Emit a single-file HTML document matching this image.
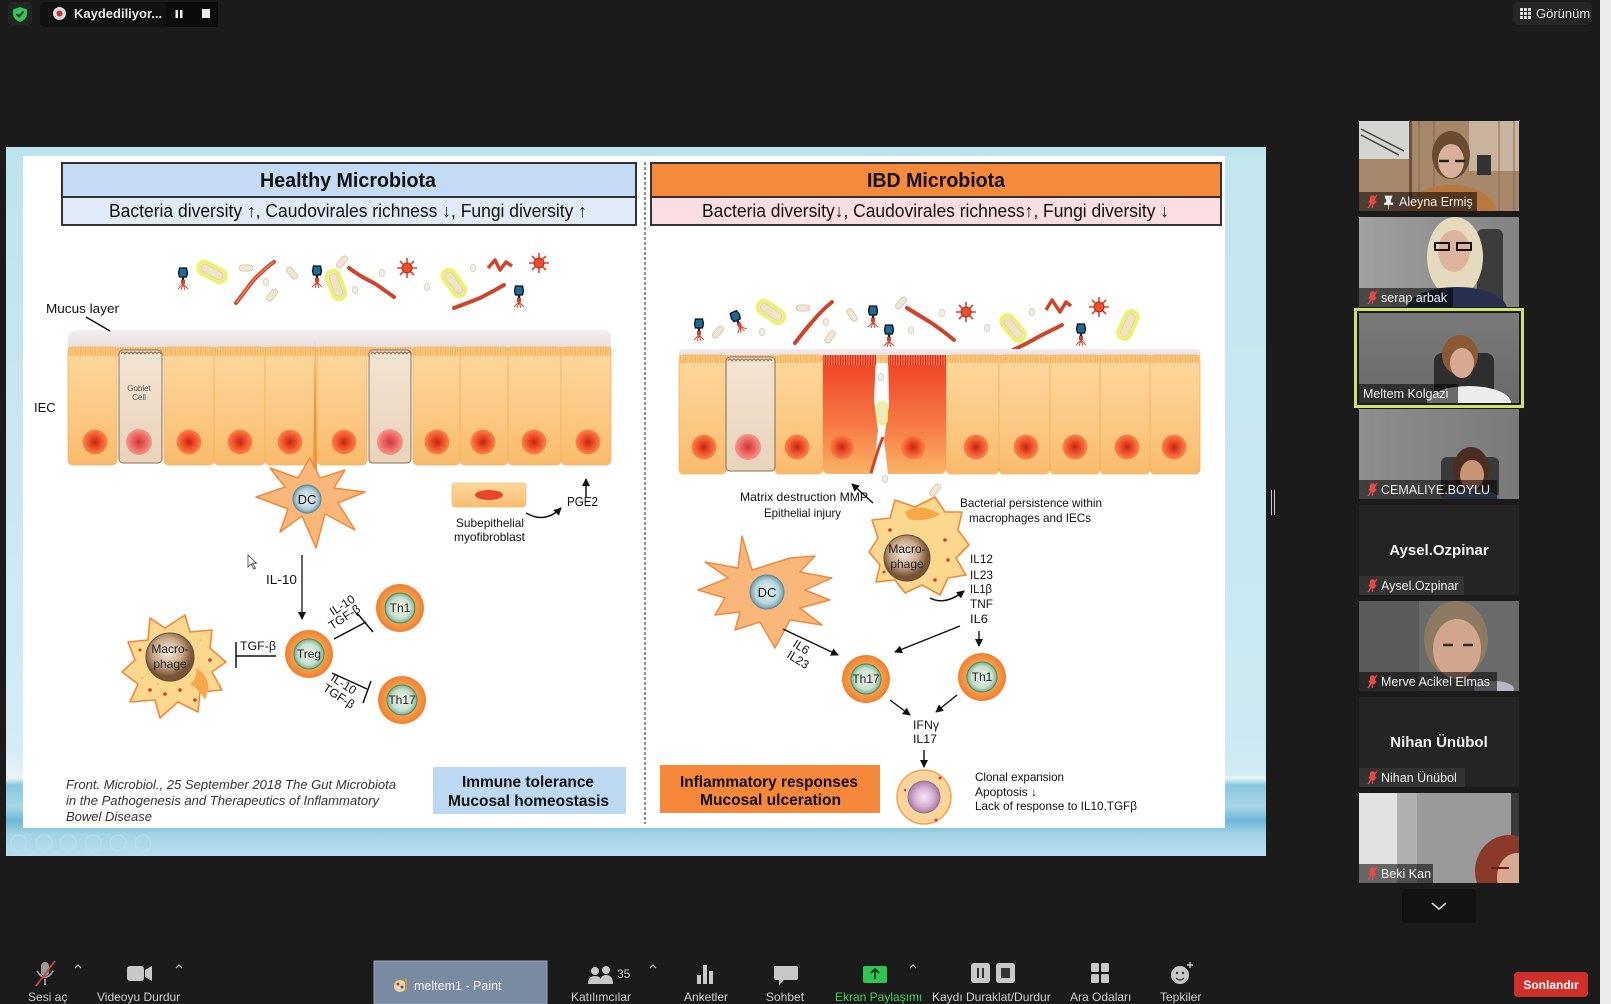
<!DOCTYPE html>
<html><head><meta charset="utf-8">
<style>
html,body{margin:0;padding:0;background:#1b1b1b;width:1611px;height:1004px;overflow:hidden}
svg{position:absolute;left:0;top:0}
text{font-family:"Liberation Sans",Arial,sans-serif}
</style></head><body>
<svg width="1611" height="1004" viewBox="0 0 1611 1004" xmlns="http://www.w3.org/2000/svg">
<defs>
<linearGradient id="slidebg" x1="0" y1="0" x2="0" y2="1">
<stop offset="0" stop-color="#bde3ef"/><stop offset="0.85" stop-color="#d4ecf4"/><stop offset="0.89" stop-color="#e8f4f8"/><stop offset="0.9" stop-color="#88c8de"/><stop offset="0.93" stop-color="#a8d6e8"/><stop offset="0.95" stop-color="#6db8d6"/><stop offset="0.97" stop-color="#a5d4e6"/><stop offset="1" stop-color="#b8def0"/></linearGradient>
<linearGradient id="cellg" x1="0" y1="0" x2="0" y2="1"><stop offset="0" stop-color="#fcd89c"/><stop offset="0.6" stop-color="#fbc883"/><stop offset="1" stop-color="#f9bb6c"/></linearGradient>
<linearGradient id="gobg" x1="0" y1="0" x2="0" y2="1"><stop offset="0" stop-color="#f3e4d2"/><stop offset="1" stop-color="#e9d3bb"/></linearGradient>
<linearGradient id="redg" x1="0" y1="0" x2="0" y2="1"><stop offset="0" stop-color="#ee3f25"/><stop offset="0.6" stop-color="#f77a45"/><stop offset="1" stop-color="#f9b466"/></linearGradient>
<linearGradient id="mucg" x1="0" y1="0" x2="0" y2="1"><stop offset="0" stop-color="#f3eeee"/><stop offset="1" stop-color="#e6dbdb"/></linearGradient>
<radialGradient id="nuc"><stop offset="0" stop-color="#b82a18"/><stop offset="0.45" stop-color="#ee4a24"/><stop offset="1" stop-color="#f8874e"/></radialGradient>
<radialGradient id="nucg"><stop offset="0" stop-color="#c83a3a"/><stop offset="0.5" stop-color="#ec6060"/><stop offset="1" stop-color="#f49a8a"/></radialGradient>
<radialGradient id="tcell"><stop offset="0" stop-color="#f8c080"/><stop offset="0.7" stop-color="#f59a45"/><stop offset="1" stop-color="#ef8030"/></radialGradient>
<radialGradient id="tnuc"><stop offset="0" stop-color="#eef4ee"/><stop offset="0.7" stop-color="#c8e0cc"/><stop offset="1" stop-color="#78b090"/></radialGradient>
<radialGradient id="dcnuc"><stop offset="0" stop-color="#eef6f8"/><stop offset="0.7" stop-color="#b8d4dc"/><stop offset="1" stop-color="#6e9aaa"/></radialGradient>
<radialGradient id="manuc" cx="0.45" cy="0.4"><stop offset="0" stop-color="#f4ebe2"/><stop offset="0.6" stop-color="#c8a888"/><stop offset="1" stop-color="#7a5438"/></radialGradient>
<radialGradient id="purp"><stop offset="0" stop-color="#f6e6f4"/><stop offset="0.6" stop-color="#d8b0d4"/><stop offset="1" stop-color="#a27aa6"/></radialGradient>
<pattern id="brush" width="2.5" height="10" patternUnits="userSpaceOnUse"><rect width="2.5" height="10" fill="#fbc67a"/><rect width="0.8" height="10" fill="#f2a850"/></pattern>
<pattern id="brushr" width="2.5" height="10" patternUnits="userSpaceOnUse"><rect width="2.5" height="10" fill="#f4684a"/><rect width="0.8" height="10" fill="#c82818"/></pattern>
<marker id="ah" markerWidth="8" markerHeight="8" refX="7" refY="4" orient="auto" markerUnits="userSpaceOnUse"><path d="M0,0 L8,4 L0,8 Z" fill="#111"/></marker>
<symbol id="phage" viewBox="-8 -12 16 24" overflow="visible"><path d="M-3.5,-11 L3.5,-11 L4.5,-6 L3.5,-2 L-3.5,-2 L-4.5,-6 Z" fill="#1b6a9a" stroke="#111" stroke-width="1.3"/><rect x="-1.2" y="-2" width="2.4" height="7" fill="#222"/><path d="M0,5 L-5,10 M0,5 L5,10 M0,5 L-2,11 M0,5 L2,11" stroke="#d8402a" stroke-width="1" fill="none"/><rect x="-2" y="1" width="4" height="4" fill="#d8402a"/></symbol>
<symbol id="star" viewBox="-10 -10 20 20" overflow="visible"><path d="M0,-10 L0,10 M-10,0 L10,0 M-7,-7 L7,7 M-7,7 L7,-7" stroke="#e0402a" stroke-width="1.6"/><circle r="5" fill="#e8502e" stroke="#c02a18"/></symbol>
<symbol id="yrod" viewBox="-17 -8 34 16" overflow="visible"><rect x="-15" y="-6.5" width="30" height="13" rx="6.5" fill="#f0e8c8" stroke="#eef26a" stroke-width="3.5"/><rect x="-12" y="-4" width="24" height="8" rx="4" fill="#efe3c6" stroke="#d8cca8" stroke-width="0.6"/></symbol>
<symbol id="brod" viewBox="-8 -4 16 8" overflow="visible"><rect x="-7" y="-3" width="14" height="6" rx="3" fill="#efe6d4" stroke="#cfc2a4" stroke-width="0.8"/></symbol>
<symbol id="ov" viewBox="-4 -5 8 10" overflow="visible"><ellipse rx="2.8" ry="3.6" fill="#f2eee6" stroke="#d4cab8" stroke-width="0.8"/></symbol>
</defs>

<!-- TOP BAR -->
<rect x="8" y="2" width="24" height="23" rx="4" fill="#252525"/>
<path d="M20,7 L27,9.5 L27,14 Q27,19 20,22 Q13,19 13,14 L13,9.5 Z" fill="#2fc55a"/>
<path d="M16.5,14 L19,16.5 L23.5,11.5" stroke="#102a18" stroke-width="1.8" fill="none"/>
<rect x="40" y="2" width="178" height="25" rx="4" fill="#111"/>
<rect x="166" y="2" width="52" height="25" fill="#0b0b0b"/>
<circle cx="59.5" cy="13.5" r="6.5" fill="#ddd"/><circle cx="59.5" cy="13.5" r="3" fill="#c8312e"/>
<text x="74" y="18" font-size="13" font-weight="bold" fill="#e8e8e8">Kaydediliyor...</text>
<rect x="175.5" y="10" width="2.5" height="8" fill="#eee"/><rect x="180" y="10" width="2.5" height="8" fill="#eee"/>
<rect x="202" y="9" width="8" height="9" fill="#eee"/>
<rect x="1513" y="2" width="79" height="23" rx="5" fill="#262626"/>
<g fill="#ddd"><rect x="1520" y="8" width="3" height="3"/><rect x="1524" y="8" width="3" height="3"/><rect x="1528" y="8" width="3" height="3"/><rect x="1520" y="12" width="3" height="3"/><rect x="1524" y="12" width="3" height="3"/><rect x="1528" y="12" width="3" height="3"/><rect x="1520" y="16" width="3" height="3"/><rect x="1524" y="16" width="3" height="3"/><rect x="1528" y="16" width="3" height="3"/></g>
<text x="1536" y="18" font-size="13" fill="#e8e8e8">Görünüm</text>

<!-- SLIDE -->
<rect x="6" y="147" width="1260" height="709" fill="url(#slidebg)"/>
<rect x="1225" y="156" width="41" height="620" fill="#c8e8f2" opacity="0.6"/>
<rect x="23" y="156" width="1202" height="672" fill="#ffffff"/>
<g fill="none" stroke="#c4e2ec" stroke-width="1" opacity="0.7"><circle cx="19" cy="843" r="8"/><circle cx="44" cy="843" r="8"/><circle cx="68" cy="843" r="8"/><circle cx="93" cy="843" r="8"/><circle cx="118" cy="843" r="8"/><circle cx="143" cy="843" r="8"/></g>

<!-- headers -->
<rect x="62" y="163" width="574" height="34" fill="#c3dbf5" stroke="#333" stroke-width="2"/>
<rect x="62" y="197" width="574" height="28" fill="#dfebf9" stroke="#333" stroke-width="2"/>
<text x="260" y="187" font-size="20" font-weight="bold" fill="#111" textLength="176" lengthAdjust="spacingAndGlyphs">Healthy Microbiota</text>
<text x="109" y="217" font-size="18" fill="#111" textLength="478" lengthAdjust="spacingAndGlyphs">Bacteria diversity ↑, Caudovirales richness ↓, Fungi diversity ↑</text>
<rect x="651" y="163" width="570" height="34" fill="#f5893c" stroke="#333" stroke-width="2"/>
<rect x="651" y="197" width="570" height="28" fill="#fcdde2" stroke="#333" stroke-width="2"/>
<text x="867" y="187" font-size="20" font-weight="bold" fill="#111" textLength="138" lengthAdjust="spacingAndGlyphs">IBD Microbiota</text>
<text x="702" y="217" font-size="18" fill="#111" textLength="467" lengthAdjust="spacingAndGlyphs">Bacteria diversity↓, Caudovirales richness↑, Fungi diversity ↓</text>
<line x1="645" y1="162" x2="645" y2="824" stroke="#444" stroke-width="1.2" stroke-dasharray="3 2"/>

<!-- HEALTHY MICROBES -->
<g>
<use href="#phage" x="175" y="267" width="16" height="24"/>
<use href="#yrod" transform="translate(212,272) rotate(28)" width="34" height="16" x="-17" y="-8"/>
<use href="#brod" transform="translate(246,268)" width="16" height="8" x="-8" y="-4"/>
<path d="M236,303 Q246,290 252,282 Q258,275 262,272 Q268,266 274,262" stroke="#d04428" stroke-width="4" fill="none" stroke-linecap="round"/>
<path d="M236,303 Q246,290 252,282 Q258,275 262,272 Q268,266 274,262" stroke="#f08a60" stroke-width="1.2" fill="none"/>
<use href="#ov" transform="translate(266,282)" width="8" height="10" x="-4" y="-5"/>
<use href="#brod" transform="translate(292,273) rotate(50)" width="16" height="8" x="-8" y="-4"/>
<use href="#brod" transform="translate(272,295) rotate(-50)" width="16" height="8" x="-8" y="-4"/>
<use href="#phage" x="309" y="265" width="16" height="24"/>
<use href="#yrod" transform="translate(336,285) rotate(70)" width="34" height="16" x="-17" y="-8"/>
<use href="#brod" transform="translate(342,262) rotate(-50)" width="16" height="8" x="-8" y="-4"/>
<use href="#ov" transform="translate(355,290)" width="8" height="10" x="-4" y="-5"/>
<path d="M349,268 Q360,276 368,280 Q378,285 384,290 Q390,294 394,297" stroke="#d04428" stroke-width="4" fill="none" stroke-linecap="round"/>
<use href="#ov" transform="translate(382,273)" width="8" height="10" x="-4" y="-5"/>
<use href="#star" x="397" y="258" width="20" height="20"/>
<use href="#ov" transform="translate(427,287)" width="8" height="10" x="-4" y="-5"/>
<use href="#yrod" transform="translate(454,283) rotate(55)" width="34" height="16" x="-17" y="-8"/>
<use href="#ov" transform="translate(473,268)" width="8" height="10" x="-4" y="-5"/>
<path d="M488,268 L495,260 L500,270 L506,262 L512,266" stroke="#d04428" stroke-width="3.5" fill="none" stroke-linejoin="round"/>
<use href="#star" x="529" y="253" width="20" height="20"/>
<path d="M454,308 Q470,302 480,298 Q492,292 504,285" stroke="#d04428" stroke-width="4" fill="none" stroke-linecap="round"/>
<use href="#phage" x="511" y="285" width="16" height="24"/>
</g>

<!-- HEALTHY EPITHELIUM -->
<path d="M68,352 L68,336 Q70,330 80,330 L600,330 Q611,330 611,336 L611,352 Z" fill="url(#mucg)"/>
<g stroke="#f2b262" stroke-width="0.8">
<rect x="68" y="347" width="49" height="118" rx="5" fill="url(#cellg)"/>
<rect x="164" y="347" width="50" height="118" rx="5" fill="url(#cellg)"/>
<rect x="214" y="347" width="51" height="118" rx="5" fill="url(#cellg)"/>
<rect x="265" y="347" width="52" height="118" rx="5" fill="url(#cellg)"/>
<rect x="317" y="347" width="50" height="118" rx="5" fill="url(#cellg)"/>
<rect x="413" y="347" width="47" height="118" rx="5" fill="url(#cellg)"/>
<rect x="460" y="347" width="48" height="118" rx="5" fill="url(#cellg)"/>
<rect x="508" y="347" width="53" height="118" rx="5" fill="url(#cellg)"/>
<rect x="561" y="347" width="50" height="118" rx="5" fill="url(#cellg)"/>
</g>
<rect x="68" y="347" width="543" height="9" fill="url(#brush)" opacity="0.9"/>
<rect x="119" y="350" width="43" height="113" rx="4" fill="url(#gobg)" stroke="#8a6a4a" stroke-width="1"/>
<rect x="369" y="350" width="42" height="113" rx="4" fill="url(#gobg)" stroke="#8a6a4a" stroke-width="1"/>
<path d="M121,354 q2,-4 4,0 q2,-4 4,0 q2,-4 4,0 q2,-4 4,0 q2,-4 4,0 q2,-4 4,0 q2,-4 4,0 q2,-4 4,0 q2,-4 4,0 q2,-4 4,0" stroke="#8a6a4a" fill="none" stroke-width="0.9"/>
<path d="M371,354 q2,-4 4,0 q2,-4 4,0 q2,-4 4,0 q2,-4 4,0 q2,-4 4,0 q2,-4 4,0 q2,-4 4,0 q2,-4 4,0 q2,-4 4,0 q2,-4 4,0" stroke="#8a6a4a" fill="none" stroke-width="0.9"/>
<text x="139" y="391" font-size="8" fill="#555" text-anchor="middle">Goblet</text>
<text x="139" y="400" font-size="8" fill="#555" text-anchor="middle">Cell</text>
<g>
<circle cx="95" cy="442" r="12.5" fill="url(#nuc)"/><circle cx="139" cy="442" r="13" fill="url(#nucg)"/><circle cx="189" cy="442" r="12.5" fill="url(#nuc)"/><circle cx="240" cy="442" r="12.5" fill="url(#nuc)"/><circle cx="290" cy="442" r="12.5" fill="url(#nuc)"/><circle cx="344" cy="442" r="12.5" fill="url(#nuc)"/><circle cx="390" cy="442" r="13" fill="url(#nucg)"/><circle cx="437" cy="442" r="12.5" fill="url(#nuc)"/><circle cx="483" cy="442" r="12.5" fill="url(#nuc)"/><circle cx="534" cy="442" r="12.5" fill="url(#nuc)"/><circle cx="588" cy="442" r="12.5" fill="url(#nuc)"/>
</g>
<path d="M313,470 L315,337 L317,470 Z" fill="#f2923a"/>
<text x="46" y="313" font-size="13" fill="#111" textLength="73" lengthAdjust="spacingAndGlyphs">Mucus layer</text>
<line x1="86" y1="317" x2="110" y2="331" stroke="#111" stroke-width="1.5"/>
<text x="34" y="412" font-size="13" fill="#111">IEC</text>

<!-- HEALTHY LOWER -->
<path d="M310,458 L320,478 L345,470 L334,488 L365,492 L338,503 L355,530 L325,514 L316,548 L302,516 L280,532 L288,509 L256,497 L285,487 L270,468 L298,478 Z" fill="#f9b87a" stroke="#f08a3c" stroke-width="1.5" stroke-linejoin="round"/>
<circle cx="307" cy="499" r="14" fill="url(#dcnuc)" stroke="#5a8a9a" stroke-width="1"/>
<text x="307" y="504" font-size="13" fill="#111" text-anchor="middle">DC</text>
<rect x="452" y="483" width="74" height="24" rx="3" fill="url(#cellg)" stroke="#f4c080" stroke-width="0.8"/>
<ellipse cx="489" cy="495" rx="14" ry="5" fill="#e8452a"/>
<text x="456" y="527" font-size="12" fill="#111" textLength="68" lengthAdjust="spacingAndGlyphs">Subepithelial</text>
<text x="454" y="541" font-size="12" fill="#111" textLength="71" lengthAdjust="spacingAndGlyphs">myofibroblast</text>
<path d="M526,513 Q545,524 561,508" stroke="#111" stroke-width="1.5" fill="none" marker-end="url(#ah)"/>
<text x="567" y="506" font-size="13" fill="#111" textLength="31" lengthAdjust="spacingAndGlyphs">PGE2</text>
<line x1="586" y1="497" x2="586" y2="479" stroke="#111" stroke-width="1.5" marker-end="url(#ah)"/>
<line x1="302" y1="555" x2="302" y2="619" stroke="#111" stroke-width="1.3" marker-end="url(#ah)"/>
<text x="266" y="584" font-size="13" fill="#111" textLength="31" lengthAdjust="spacingAndGlyphs">IL-10</text>
<path d="M248,555 l0,12 l3,-3 l3,5 l1.5,-0.8 l-3,-5 l4,0 Z" fill="#fff" stroke="#333" stroke-width="0.8"/>

<g>
<circle cx="309" cy="654" r="24" fill="url(#tcell)"/><circle cx="309" cy="654" r="15" fill="url(#tnuc)" stroke="#4a8a6a" stroke-width="1"/>
<text x="309" y="658" font-size="12" fill="#222" text-anchor="middle">Treg</text>
<circle cx="400" cy="608" r="24" fill="url(#tcell)"/><circle cx="400" cy="608" r="15" fill="url(#tnuc)" stroke="#4a8a6a" stroke-width="1"/>
<text x="400" y="612" font-size="12" fill="#222" text-anchor="middle">Th1</text>
<circle cx="402" cy="700" r="24" fill="url(#tcell)"/><circle cx="402" cy="700" r="15" fill="url(#tnuc)" stroke="#4a8a6a" stroke-width="1"/>
<text x="402" y="704" font-size="12" fill="#222" text-anchor="middle">Th17</text>
</g>
<g stroke="#111" stroke-width="1.5">
<line x1="334" y1="639" x2="366" y2="622"/><line x1="357" y1="613" x2="373" y2="632"/>
<line x1="332" y1="673" x2="367" y2="689"/><line x1="371" y1="681" x2="363" y2="703"/>
<line x1="236" y1="656" x2="276" y2="656"/><line x1="236" y1="642" x2="236" y2="668"/>
</g>
<text transform="translate(333,616) rotate(-33)" font-size="12" fill="#111">IL-10</text>
<text transform="translate(332,630) rotate(-33)" font-size="12" fill="#111">TGF-β</text>
<text transform="translate(330,680) rotate(33)" font-size="12" fill="#111">IL-10</text>
<text transform="translate(322,690) rotate(33)" font-size="12" fill="#111">TGF-β</text>
<text x="240" y="650" font-size="12" fill="#111" textLength="36" lengthAdjust="spacingAndGlyphs">TGF-β</text>

<path d="M150,618 L165,628 L185,615 L190,632 L212,630 L210,648 L226,662 L212,672 L222,690 L200,692 L198,712 L178,702 L160,718 L155,700 L130,702 L138,684 L122,672 L135,660 L128,642 L148,640 Z" fill="#fbd88e" stroke="#f0883a" stroke-width="1.6" stroke-linejoin="round"/>
<path d="M196,668 Q214,678 205,700 Q200,690 190,684 Q198,678 196,668 Z" fill="#f7a848"/>
<g fill="#d83a2a"><circle cx="150" cy="690" r="1.8"/><circle cx="165" cy="694" r="1.8"/><circle cx="180" cy="690" r="1.8"/><circle cx="210" cy="660" r="1.8"/><circle cx="195" cy="700" r="1.8"/><circle cx="140" cy="650" r="1.5"/></g>
<g fill="#e8d060"><circle cx="158" cy="684" r="1.4"/><circle cx="142" cy="678" r="1.4"/><circle cx="200" cy="640" r="1.4"/></g>
<circle cx="170" cy="657" r="24" fill="url(#manuc)" stroke="#6a4a30" stroke-width="1"/>
<text x="170" y="653" font-size="12" fill="#222" text-anchor="middle">Macro-</text>
<text x="170" y="668" font-size="12" fill="#222" text-anchor="middle">phage</text>

<text x="66" y="789" font-size="13" font-style="italic" fill="#333" textLength="330" lengthAdjust="spacingAndGlyphs">Front. Microbiol., 25 September 2018 The Gut Microbiota</text>
<text x="66" y="805" font-size="13" font-style="italic" fill="#333" textLength="313" lengthAdjust="spacingAndGlyphs">in the Pathogenesis and Therapeutics of Inflammatory</text>
<text x="66" y="821" font-size="13" font-style="italic" fill="#333" textLength="86" lengthAdjust="spacingAndGlyphs">Bowel Disease</text>
<rect x="433" y="767" width="193" height="47" fill="#bcd8f2"/>
<text x="462" y="787" font-size="16" font-weight="bold" fill="#111" textLength="132" lengthAdjust="spacingAndGlyphs">Immune tolerance</text>
<text x="448" y="806" font-size="16" font-weight="bold" fill="#111" textLength="161" lengthAdjust="spacingAndGlyphs">Mucosal homeostasis</text>

<!-- IBD MICROBES -->
<g>
<use href="#phage" x="691" y="318" width="16" height="24"/>
<use href="#brod" transform="translate(718,332) rotate(-50)" width="16" height="8" x="-8" y="-4"/>
<use href="#phage" transform="translate(738,322) rotate(-25)" x="-8" y="-12" width="16" height="24"/>
<use href="#ov" transform="translate(762,332)" width="8" height="10" x="-4" y="-5"/>
<use href="#yrod" transform="translate(771,312) rotate(35)" width="34" height="16" x="-17" y="-8"/>
<use href="#brod" transform="translate(803,308)" width="16" height="8" x="-8" y="-4"/>
<path d="M795,343 Q805,330 812,322 Q822,310 832,302" stroke="#d04428" stroke-width="4" fill="none" stroke-linecap="round"/>
<use href="#brod" transform="translate(830,337) rotate(-55)" width="16" height="8" x="-8" y="-4"/>
<use href="#ov" transform="translate(826,322)" width="8" height="10" x="-4" y="-5"/>
<use href="#brod" transform="translate(852,315) rotate(55)" width="16" height="8" x="-8" y="-4"/>
<use href="#phage" x="865" y="305" width="16" height="24"/>
<use href="#brod" transform="translate(901,303) rotate(-50)" width="16" height="8" x="-8" y="-4"/>
<use href="#phage" x="881" y="324" width="16" height="24"/>
<use href="#ov" transform="translate(911,330)" width="8" height="10" x="-4" y="-5"/>
<path d="M907,308 Q920,316 930,322 Q942,330 954,340" stroke="#d04428" stroke-width="4" fill="none" stroke-linecap="round"/>
<use href="#ov" transform="translate(942,313)" width="8" height="10" x="-4" y="-5"/>
<use href="#star" x="956" y="302" width="20" height="20"/>
<use href="#ov" transform="translate(987,328)" width="8" height="10" x="-4" y="-5"/>
<use href="#yrod" transform="translate(1013,328) rotate(50)" width="34" height="16" x="-17" y="-8"/>
<use href="#ov" transform="translate(1032,312)" width="8" height="10" x="-4" y="-5"/>
<path d="M1046,310 L1052,300 L1060,312 L1066,302 L1071,306" stroke="#d04428" stroke-width="3.5" fill="none" stroke-linejoin="round"/>
<use href="#star" x="1089" y="297" width="20" height="20"/>
<path d="M1013,350 Q1028,343 1040,336 Q1052,330 1062,325" stroke="#d04428" stroke-width="4" fill="none" stroke-linecap="round"/>
<use href="#phage" x="1073" y="323" width="16" height="24"/>
<use href="#yrod" transform="translate(1128,325) rotate(-65)" width="34" height="16" x="-17" y="-8"/>
</g>

<!-- IBD EPITHELIUM -->
<rect x="679" y="349" width="521" height="9" rx="3" fill="url(#mucg)"/>
<g stroke="#f2b262" stroke-width="0.8">
<rect x="679" y="355" width="47" height="119" rx="5" fill="url(#cellg)"/>
<rect x="775" y="355" width="48" height="119" rx="5" fill="url(#cellg)"/>
<rect x="946" y="355" width="53" height="119" rx="5" fill="url(#cellg)"/>
<rect x="999" y="355" width="51" height="119" rx="5" fill="url(#cellg)"/>
<rect x="1050" y="355" width="50" height="119" rx="5" fill="url(#cellg)"/>
<rect x="1100" y="355" width="50" height="119" rx="5" fill="url(#cellg)"/>
<rect x="1150" y="355" width="50" height="119" rx="5" fill="url(#cellg)"/>
</g>
<rect x="679" y="355" width="521" height="8" fill="url(#brush)" opacity="0.9"/>
<path d="M823,355 L876,355 L874,400 L878,430 L873,474 L828,474 Q823,474 823,468 Z" fill="url(#redg)"/>
<path d="M888,355 L946,355 L946,468 Q946,474 940,474 L888,474 L884,440 L889,405 Z" fill="url(#redg)"/>
<rect x="823" y="355" width="53" height="10" fill="url(#brushr)"/>
<rect x="888" y="355" width="58" height="10" fill="url(#brushr)"/>
<rect x="726" y="357" width="49" height="114" rx="4" fill="url(#gobg)" stroke="#8a6a4a" stroke-width="1"/>
<path d="M728,361 q2,-4 4,0 q2,-4 4,0 q2,-4 4,0 q2,-4 4,0 q2,-4 4,0 q2,-4 4,0 q2,-4 4,0 q2,-4 4,0 q2,-4 4,0 q2,-4 4,0 q2,-4 4,0" stroke="#8a6a4a" fill="none" stroke-width="0.9"/>
<rect x="878" y="402" width="9" height="22" rx="4.5" fill="#f0e8c8" stroke="#eef26a" stroke-width="2"/>
<path d="M871,473 Q875,460 878,450 Q881,442 883,437" stroke="#d04428" stroke-width="3" fill="none"/>
<use href="#ov" transform="translate(881,377)" width="8" height="10" x="-4" y="-5"/>
<use href="#ov" transform="translate(885,479)" width="8" height="10" x="-4" y="-5"/>
<g>
<circle cx="704" cy="447" r="12.5" fill="url(#nuc)"/><circle cx="748" cy="447" r="13" fill="url(#nucg)"/><circle cx="797" cy="447" r="12.5" fill="url(#nuc)"/><circle cx="842" cy="447" r="12.5" fill="url(#nuc)"/><circle cx="913" cy="447" r="12.5" fill="url(#nuc)"/><circle cx="976" cy="447" r="12.5" fill="url(#nuc)"/><circle cx="1026" cy="447" r="12.5" fill="url(#nuc)"/><circle cx="1075" cy="447" r="12.5" fill="url(#nuc)"/><circle cx="1127" cy="447" r="12.5" fill="url(#nuc)"/><circle cx="1174" cy="447" r="12.5" fill="url(#nuc)"/>
</g>

<!-- IBD LOWER -->
<line x1="873" y1="503" x2="852" y2="484" stroke="#111" stroke-width="1.4" marker-end="url(#ah)"/>
<text x="740" y="501" font-size="12" fill="#111" textLength="128" lengthAdjust="spacingAndGlyphs">Matrix destruction MMP</text>
<text x="764" y="517" font-size="12" fill="#111" textLength="77" lengthAdjust="spacingAndGlyphs">Epithelial injury</text>
<text x="960" y="507" font-size="12" fill="#111" textLength="142" lengthAdjust="spacingAndGlyphs">Bacterial persistence within</text>
<text x="969" y="522" font-size="12" fill="#111" textLength="122" lengthAdjust="spacingAndGlyphs">macrophages and IECs</text>
<use href="#brod" transform="translate(935,490) rotate(-50)" width="16" height="8" x="-8" y="-4"/>

<path d="M895,500 L915,507 L935,497 L945,512 L962,512 L958,530 L969,545 L956,558 L966,575 L948,578 L940,595 L922,585 L905,593 L895,580 L876,582 L880,565 L869,552 L878,538 L872,520 L890,518 Z" fill="#fbd88e" stroke="#f0883a" stroke-width="1.6" stroke-linejoin="round"/>
<path d="M905,512 Q920,502 940,514 Q932,520 918,520 Q908,522 905,512 Z" fill="#f7a848"/>
<g fill="#d83a2a"><circle cx="890" cy="530" r="1.8"/><circle cx="945" cy="540" r="1.8"/><circle cx="948" cy="560" r="1.8"/><circle cx="935" cy="580" r="1.8"/><circle cx="884" cy="572" r="1.5"/></g>
<circle cx="907" cy="558" r="23" fill="url(#manuc)" stroke="#6a4a30" stroke-width="1"/>
<text x="907" y="553" font-size="12" fill="#222" text-anchor="middle">Macro-</text>
<text x="907" y="568" font-size="12" fill="#222" text-anchor="middle">phage</text>
<path d="M930,598 Q945,606 964,591" stroke="#111" stroke-width="1.5" fill="none" marker-end="url(#ah)"/>
<g font-size="12" fill="#111">
<text x="970" y="563" textLength="23" lengthAdjust="spacingAndGlyphs">IL12</text>
<text x="970" y="579" textLength="23" lengthAdjust="spacingAndGlyphs">IL23</text>
<text x="970" y="593" textLength="22" lengthAdjust="spacingAndGlyphs">IL1β</text>
<text x="970" y="608" textLength="23" lengthAdjust="spacingAndGlyphs">TNF</text>
<text x="970" y="623" textLength="18" lengthAdjust="spacingAndGlyphs">IL6</text>
</g>
<line x1="979" y1="631" x2="979" y2="646" stroke="#111" stroke-width="1.4" marker-end="url(#ah)"/>
<line x1="960" y1="626" x2="895" y2="652" stroke="#111" stroke-width="1.4" marker-end="url(#ah)"/>

<path d="M742,536 L752,570 L790,558 L815,556 L800,572 L832,578 L805,590 L830,600 L800,608 L822,625 L790,620 L775,648 L760,622 L735,630 L740,612 L715,615 L725,598 L698,590 L728,578 L705,562 L738,568 Z" fill="#f9b87a" stroke="#f08a3c" stroke-width="1.5" stroke-linejoin="round"/>
<circle cx="767" cy="592" r="17" fill="url(#dcnuc)" stroke="#5a8a9a" stroke-width="1"/>
<text x="767" y="597" font-size="13" fill="#111" text-anchor="middle">DC</text>
<line x1="783" y1="629" x2="838" y2="655" stroke="#111" stroke-width="1.4" marker-end="url(#ah)"/>
<text transform="translate(792,646) rotate(32)" font-size="12" fill="#111">IL6</text>
<text transform="translate(786,657) rotate(32)" font-size="12" fill="#111">IL23</text>

<circle cx="866" cy="679" r="24" fill="url(#tcell)"/><circle cx="866" cy="679" r="15" fill="url(#tnuc)" stroke="#4a8a6a" stroke-width="1"/>
<text x="866" y="683" font-size="12" fill="#222" text-anchor="middle">Th17</text>
<circle cx="982" cy="677" r="24" fill="url(#tcell)"/><circle cx="982" cy="677" r="15" fill="url(#tnuc)" stroke="#4a8a6a" stroke-width="1"/>
<text x="982" y="681" font-size="12" fill="#222" text-anchor="middle">Th1</text>
<line x1="890" y1="700" x2="910" y2="715" stroke="#111" stroke-width="1.4" marker-end="url(#ah)"/>
<line x1="957" y1="695" x2="936" y2="712" stroke="#111" stroke-width="1.4" marker-end="url(#ah)"/>
<text x="913" y="729" font-size="12" fill="#111" textLength="26" lengthAdjust="spacingAndGlyphs">IFNγ</text>
<text x="913" y="743" font-size="12" fill="#111" textLength="24" lengthAdjust="spacingAndGlyphs">IL17</text>
<line x1="924" y1="750" x2="924" y2="767" stroke="#111" stroke-width="1.4" marker-end="url(#ah)"/>
<circle cx="924" cy="797" r="27" fill="#fbd59a" stroke="#f3a452" stroke-width="1.5"/>
<circle cx="924" cy="797" r="16" fill="url(#purp)" stroke="#8a6a90" stroke-width="0.8"/>
<g fill="#d83a2a"><circle cx="940" cy="778" r="1.5"/><circle cx="936" cy="820" r="1.5"/><circle cx="905" cy="790" r="1.3"/></g>
<text x="975" y="781" font-size="12" fill="#111" textLength="89" lengthAdjust="spacingAndGlyphs">Clonal expansion</text>
<text x="975" y="796" font-size="12" fill="#111" textLength="62" lengthAdjust="spacingAndGlyphs">Apoptosis ↓</text>
<text x="975" y="810" font-size="12" fill="#111" textLength="162" lengthAdjust="spacingAndGlyphs">Lack of response to IL10,TGFβ</text>
<rect x="660" y="765" width="220" height="48" fill="#f5883a"/>
<text x="680" y="787" font-size="16" font-weight="bold" fill="#111" textLength="178" lengthAdjust="spacingAndGlyphs">Inflammatory responses</text>
<text x="700" y="805" font-size="16" font-weight="bold" fill="#111" textLength="141" lengthAdjust="spacingAndGlyphs">Mucosal ulceration</text>

<!-- right edge strip & handle -->
<rect x="1600" y="0" width="11" height="1004" fill="#ececec"/>
<line x1="1271.5" y1="490" x2="1271.5" y2="515" stroke="#ccc" stroke-width="1"/>
<line x1="1274.5" y1="490" x2="1274.5" y2="515" stroke="#ccc" stroke-width="1"/>

<!-- GALLERY -->
<svg x="1359" y="121" width="160" height="90" viewBox="0 0 160 90">
<rect width="160" height="90" fill="#a6876a"/>
<rect x="0" y="0" width="50" height="38" fill="#d4d4d0"/><path d="M2,8 L45,30 M2,14 L40,34" stroke="#444" stroke-width="1.5"/>
<rect x="50" y="0" width="3" height="90" fill="#6a5040"/>
<rect x="110" y="0" width="50" height="50" fill="#c8b49c"/>
<g stroke="#8a6a50" stroke-width="1"><line x1="60" y1="0" x2="60" y2="90"/><line x1="75" y1="0" x2="75" y2="90"/><line x1="140" y1="0" x2="140" y2="90"/><line x1="155" y1="0" x2="155" y2="90"/></g>
<rect x="118" y="34" width="14" height="20" fill="#333"/>
<ellipse cx="92" cy="34" rx="19" ry="24" fill="#6b4a32"/>
<ellipse cx="92" cy="40" rx="13" ry="17" fill="#d9b09a"/>
<path d="M80,40 h10 M96,40 h10" stroke="#222" stroke-width="2.5"/>
<ellipse cx="92" cy="90" rx="44" ry="26" fill="#b8783e"/>
<rect x="0" y="71" width="118" height="19" fill="#000" opacity="0.55"/>
</svg>
<svg x="1359" y="217" width="160" height="90" viewBox="0 0 160 90">
<defs><linearGradient id="t2" x1="0" x2="1"><stop offset="0" stop-color="#a0a0a0"/><stop offset="1" stop-color="#828282"/></linearGradient></defs>
<rect width="160" height="90" fill="url(#t2)"/>
<rect x="118" y="12" width="26" height="78" rx="6" fill="#3c3c3c"/>
<ellipse cx="96" cy="40" rx="28" ry="40" fill="#e6dabe"/>
<ellipse cx="95" cy="34" rx="16" ry="21" fill="#dcb49e"/>
<path d="M76,26 h14 v7 h-14 Z M98,26 h14 v7 h-14 Z" fill="none" stroke="#111" stroke-width="2"/>
<ellipse cx="98" cy="92" rx="50" ry="22" fill="#283050"/>
<rect x="0" y="71" width="94" height="19" fill="#000" opacity="0.55"/>
</svg>
<rect x="1355.5" y="309.5" width="167" height="97" fill="none" stroke="#cfe36a" stroke-width="3"/>
<svg x="1359" y="313" width="160" height="90" viewBox="0 0 160 90">
<defs><linearGradient id="t3" x1="0" x2="0" y1="0" y2="1"><stop offset="0" stop-color="#7a7a7a"/><stop offset="1" stop-color="#6a6a6a"/></linearGradient></defs>
<rect width="160" height="90" fill="url(#t3)"/>
<rect x="75" y="40" width="60" height="50" rx="8" fill="#2e2e2e"/>
<ellipse cx="101" cy="42" rx="18" ry="20" fill="#8a5a36"/>
<ellipse cx="103" cy="50" rx="12" ry="15" fill="#d8a890"/>
<ellipse cx="110" cy="90" rx="42" ry="17" fill="#ececec"/>
<rect x="0" y="71" width="99" height="19" fill="#000" opacity="0.55"/>
</svg>
<svg x="1359" y="409" width="160" height="90" viewBox="0 0 160 90">
<defs><linearGradient id="t4" x1="0" x2="1"><stop offset="0" stop-color="#8e8e8e"/><stop offset="1" stop-color="#7a7a7a"/></linearGradient></defs>
<rect width="160" height="90" fill="url(#t4)"/>
<rect x="82" y="48" width="58" height="42" rx="6" fill="#3a3a3a"/>
<ellipse cx="112" cy="60" rx="18" ry="22" fill="#4a2e22"/>
<ellipse cx="113" cy="66" rx="12" ry="15" fill="#c89478"/>
<ellipse cx="112" cy="92" rx="30" ry="12" fill="#5a6a8a"/>
<rect x="0" y="71" width="138" height="19" fill="#000" opacity="0.55"/>
</svg>
<rect x="1359" y="505" width="160" height="90" fill="#242424"/>
<text x="1439" y="555" font-size="15" font-weight="bold" fill="#f0f0f0" text-anchor="middle">Aysel.Ozpinar</text>
<rect x="1359" y="576" width="105" height="19" fill="#333"/>
<svg x="1359" y="601" width="160" height="90" viewBox="0 0 160 90">
<rect width="160" height="90" fill="#6a6a6a"/>
<rect x="0" y="0" width="60" height="90" fill="#5a5a5a"/>
<ellipse cx="97" cy="38" rx="32" ry="38" fill="#8e7a62"/>
<ellipse cx="98" cy="48" rx="24" ry="30" fill="#d2a68e"/>
<path d="M84,44 h10 M104,44 h10" stroke="#3a2a20" stroke-width="2.5"/>
<ellipse cx="135" cy="88" rx="20" ry="8" fill="#b8b8c0"/>
<rect x="0" y="71" width="138" height="19" fill="#000" opacity="0.55"/>
</svg>
<rect x="1359" y="697" width="160" height="90" fill="#242424"/>
<text x="1439" y="747" font-size="15" font-weight="bold" fill="#f0f0f0" text-anchor="middle">Nihan Ünübol</text>
<rect x="1359" y="768" width="106" height="19" fill="#333"/>
<svg x="1359" y="793" width="160" height="90" viewBox="0 0 160 90">
<rect width="160" height="90" fill="#9a9a9a"/>
<rect x="0" y="0" width="38" height="90" fill="#e2e2e2"/>
<rect x="38" y="0" width="20" height="90" fill="#b0b0b0"/>
<rect x="152" y="0" width="8" height="90" fill="#3a3a3a"/>
<ellipse cx="150" cy="78" rx="34" ry="36" fill="#8a3a2a"/>
<ellipse cx="158" cy="84" rx="20" ry="24" fill="#d8a890"/>
<path d="M132,75 h18" stroke="#6a1a1a" stroke-width="2"/>
<rect x="0" y="71" width="74" height="19" fill="#000" opacity="0.55"/>
</svg>
<g stroke="#e84a40" stroke-width="1.4" fill="none">
<g transform="translate(1368,196)"><rect x="2.5" y="0" width="4" height="7" rx="2" fill="#e84a40"/><path d="M1,5 Q4.5,11 8,5 M4.5,9 v3"/><line x1="0" y1="12" x2="9" y2="-1"/></g>
<g transform="translate(1368,292)"><rect x="2.5" y="0" width="4" height="7" rx="2" fill="#e84a40"/><path d="M1,5 Q4.5,11 8,5 M4.5,9 v3"/><line x1="0" y1="12" x2="9" y2="-1"/></g>
<g transform="translate(1368,484)"><rect x="2.5" y="0" width="4" height="7" rx="2" fill="#e84a40"/><path d="M1,5 Q4.5,11 8,5 M4.5,9 v3"/><line x1="0" y1="12" x2="9" y2="-1"/></g>
<g transform="translate(1368,580)"><rect x="2.5" y="0" width="4" height="7" rx="2" fill="#e84a40"/><path d="M1,5 Q4.5,11 8,5 M4.5,9 v3"/><line x1="0" y1="12" x2="9" y2="-1"/></g>
<g transform="translate(1368,676)"><rect x="2.5" y="0" width="4" height="7" rx="2" fill="#e84a40"/><path d="M1,5 Q4.5,11 8,5 M4.5,9 v3"/><line x1="0" y1="12" x2="9" y2="-1"/></g>
<g transform="translate(1368,772)"><rect x="2.5" y="0" width="4" height="7" rx="2" fill="#e84a40"/><path d="M1,5 Q4.5,11 8,5 M4.5,9 v3"/><line x1="0" y1="12" x2="9" y2="-1"/></g>
<g transform="translate(1368,868)"><rect x="2.5" y="0" width="4" height="7" rx="2" fill="#e84a40"/><path d="M1,5 Q4.5,11 8,5 M4.5,9 v3"/><line x1="0" y1="12" x2="9" y2="-1"/></g>
</g>
<path d="M1385,196 h7 l-1.5,4 v3 h2 v1.5 h-8 v-1.5 h2 v-3 Z M1388.5,204.5 v5" fill="#eee" stroke="#eee" stroke-width="0.8"/>
<g font-size="12.5" fill="#f2f2f2">
<text x="1399" y="206">Aleyna Ermiş</text>
<text x="1381" y="302">serap arbak</text>
<text x="1363" y="398">Meltem Kolgazi</text>
<text x="1381" y="494">CEMALIYE.BOYLU</text>
<text x="1381" y="590">Aysel.Ozpinar</text>
<text x="1381" y="686">Merve Acikel Elmas</text>
<text x="1381" y="782">Nihan Ünübol</text>
<text x="1381" y="878">Beki Kan</text>
</g>
<rect x="1402" y="889" width="74" height="34" rx="3" fill="#121212"/>
<path d="M1432,903 L1439,909 L1446,903" stroke="#ccc" stroke-width="1.8" fill="none"/>

<!-- BOTTOM TOOLBAR -->
<rect x="41" y="962" width="8" height="14" rx="4" fill="#9a9a9a"/>
<path d="M37,971 Q45,984 53,971" stroke="#9a9a9a" stroke-width="1.8" fill="none"/>
<line x1="45" y1="979" x2="45" y2="985" stroke="#9a9a9a" stroke-width="1.8"/>
<line x1="36" y1="986" x2="55" y2="961" stroke="#d04040" stroke-width="1.8"/>
<path d="M75,968 l3,-3 l3,3" stroke="#bbb" stroke-width="1.3" fill="none"/>
<rect x="127" y="966" width="17" height="15" rx="3" fill="#c8c8c8"/>
<path d="M145,970 L152,966 L152,981 L145,977 Z" fill="#c8c8c8"/>
<path d="M176,968 l3,-3 l3,3" stroke="#bbb" stroke-width="1.3" fill="none"/>
<g font-size="12" fill="#d0d0d0">
<text x="28" y="1001">Sesi aç</text>
<text x="97" y="1001">Videoyu Durdur</text>
<text x="571" y="1001">Katılımcılar</text>
<text x="684" y="1001">Anketler</text>
<text x="766" y="1001">Sohbet</text>
<text x="932" y="1001">Kaydı Duraklat/Durdur</text>
<text x="1070" y="1001">Ara Odaları</text>
<text x="1160" y="1001">Tepkiler</text>
</g>
<text x="835" y="1001" font-size="12" fill="#3ed45a">Ekran Paylaşımı</text>
<rect x="374" y="961" width="173" height="43" fill="#7a8aa2" stroke="#9aa8bc" stroke-width="1"/>
<circle cx="400" cy="986" r="6" fill="#e8d8a0"/><circle cx="398" cy="984" r="1.5" fill="#d03030"/><circle cx="402" cy="987" r="1.5" fill="#3050d0"/><rect x="405" y="978" width="2" height="12" fill="#c09040"/>
<text x="414" y="990" font-size="12.5" fill="#f4f4f4">meltem1 - Paint</text>
<g fill="#c8c8c8">
<circle cx="595" cy="971" r="4"/><path d="M588,984 Q588,976 595,976 Q602,976 602,984 Z"/>
<circle cx="606" cy="970" r="4"/><path d="M600,984 Q600,975 606,975 Q613,975 613,984 Z"/>
</g>
<text x="617" y="978" font-size="12" fill="#d0d0d0">35</text>
<path d="M650,968 l3,-3 l3,3" stroke="#bbb" stroke-width="1.3" fill="none"/>
<g fill="#c8c8c8"><rect x="697" y="975" width="4" height="9"/><rect x="703" y="965" width="4" height="19"/><rect x="709" y="971" width="4" height="13"/></g>
<path d="M776,966 h20 a2,2 0 0 1 2,2 v10 a2,2 0 0 1 -2,2 h-12 l-5,5 v-5 h-3 a2,2 0 0 1 -2,-2 v-10 a2,2 0 0 1 2,-2 Z" fill="#c8c8c8"/>
<rect x="863" y="966" width="24" height="17" rx="2" fill="#2fc553"/>
<path d="M875,979 v-9 M871,973 l4,-4 l4,4" stroke="#0b2a12" stroke-width="1.6" fill="none"/>
<path d="M910,968 l3,-3 l3,3" stroke="#bbb" stroke-width="1.3" fill="none"/>
<rect x="971" y="963" width="19" height="20" rx="3" fill="#c8c8c8"/><rect x="996" y="963" width="19" height="20" rx="3" fill="#c8c8c8"/>
<rect x="977" y="968" width="2" height="10" fill="#333"/><rect x="982" y="968" width="2" height="10" fill="#333"/><rect x="1001" y="968" width="9" height="10" fill="#333"/>
<g fill="#c8c8c8"><rect x="1091" y="963" width="8" height="9" rx="1.5"/><rect x="1101" y="963" width="8" height="9" rx="1.5"/><rect x="1091" y="974" width="8" height="9" rx="1.5"/><rect x="1101" y="974" width="8" height="9" rx="1.5"/></g>
<circle cx="1180" cy="975" r="9" fill="#c8c8c8"/><circle cx="1177" cy="973" r="1.2" fill="#333"/><circle cx="1183" cy="973" r="1.2" fill="#333"/><path d="M1176,978 Q1180,982 1184,978" stroke="#333" stroke-width="1.2" fill="none"/>
<path d="M1190,962 v6 M1187,965 h6" stroke="#c8c8c8" stroke-width="1.4"/>
<rect x="1514" y="972" width="74" height="25" rx="4" fill="#d0302c"/>
<text x="1551" y="989" font-size="12" font-weight="bold" fill="#fff" text-anchor="middle">Sonlandır</text>
</svg>
</body></html>
